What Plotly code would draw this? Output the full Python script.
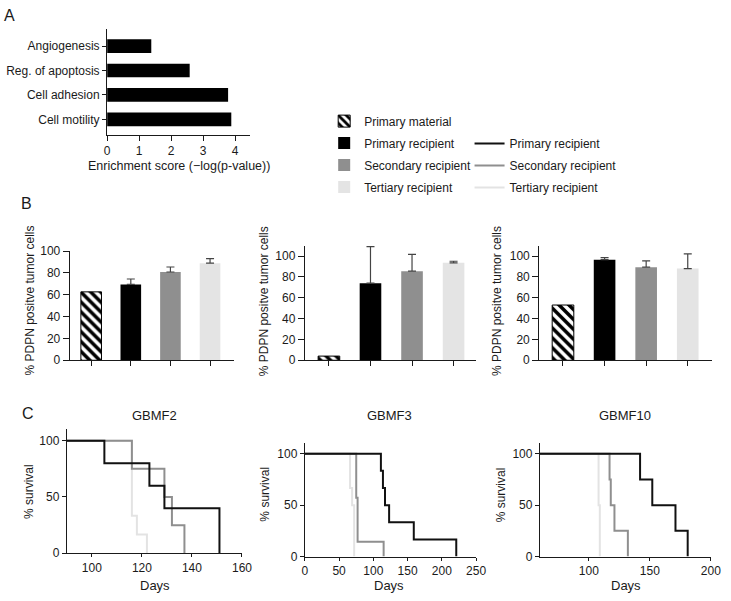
import plotly.graph_objects as go

W, H = 731, 601

# ---------------- data ----------------
# Panel A
go_terms = ["Angiogenesis", "Reg. of apoptosis", "Cell adhesion", "Cell motility"]
enrichment = [1.38, 2.58, 3.78, 3.88]

# Panel B
groups = ["Primary material", "Primary recipient", "Secondary recipient", "Tertiary recipient"]
pdpn_1 = [62.7, 69.5, 80.9, 89.0]
pdpn_1_err = [0, 5.0, 4.6, 4.1]
pdpn_2 = [4.0, 74.0, 85.5, 93.5]
pdpn_2_err = [0, 35.0, 16.0, 1.5]
pdpn_3 = [53.0, 96.5, 89.3, 88.0]
pdpn_3_err = [0, 2.0, 6.0, 14.0]

# Panel C (Kaplan-Meier steps)
recipients = ["Primary recipient", "Secondary recipient", "Tertiary recipient"]
gbmf2_days = [[0, 105, 123, 129, 151], [0, 116, 129, 132, 137], [0, 116, 118, 122]]
gbmf2_surv = [[100, 80, 60, 40, 0], [100, 75, 50, 25, 0], [100, 33.3, 16.7, 0]]
gbmf3_days = [[0, 111, 114, 117, 123, 159, 221], [0, 75, 77, 115], [0, 66, 69, 72]]
gbmf3_surv = [[100, 83.3, 66.7, 50, 33.3, 16.7, 0], [100, 57.1, 14.3, 0], [100, 66.7, 50, 0]]
gbmf10_days = [[0, 142, 152, 171, 181], [0, 117, 118, 121, 132], [0, 108, 109]]
gbmf10_surv = [[100, 75, 50, 25, 0], [100, 75, 50, 25, 0], [100, 50, 0]]

# ---------------- styling ----------------
FONT = "Liberation Sans, Arial, Helvetica, sans-serif"
INK = "#1a1a1a"
bar_colors = ["white", "#000000", "#8f8f8f", "#e4e4e4"]
line_colors = ["#111111", "#8f8f8f", "#e3e3e3"]


def px_x(p):
    return p / W


def px_y(p):
    return 1 - p / H


fig = go.Figure()

# Panel A bars
fig.add_trace(go.Bar(
    x=enrichment, y=go_terms, orientation="h", width=0.56,
    marker=dict(color="black", line=dict(width=0)),
    showlegend=False, xaxis="x", yaxis="y", hoverinfo="x+y"))

# Panel B bars
b_sets = [(pdpn_1, pdpn_1_err), (pdpn_2, pdpn_2_err), (pdpn_3, pdpn_3_err)]
for i, (vals, errs) in enumerate(b_sets):
    ax = i + 2
    for j, g in enumerate(groups):
        if j == 0:
            marker = dict(color="white",
                          pattern=dict(shape="\\", fgcolor="black", bgcolor="white",
                                       size=7, solidity=0.5, fillmode="replace"),
                          line=dict(color="black", width=1))
            err = dict(visible=False)
        else:
            marker = dict(color=bar_colors[j], line=dict(width=0))
            err = dict(type="data", symmetric=False, array=[errs[j]], arrayminus=[0],
                       color="#444444", thickness=1.2, width=4, visible=True)
        fig.add_trace(go.Bar(
            x=[g], y=[vals[j]], width=0.52, marker=marker, error_y=err,
            name=g, legendgroup="bar_" + g, showlegend=(i == 0), legend="legend",
            xaxis=f"x{ax}", yaxis=f"y{ax}"))

# Panel C lines
c_sets = [(gbmf2_days, gbmf2_surv), (gbmf3_days, gbmf3_surv), (gbmf10_days, gbmf10_surv)]
for i, (days, surv) in enumerate(c_sets):
    ax = i + 5
    for j, r in reversed(list(enumerate(recipients))):
        fig.add_trace(go.Scatter(
            x=days[j], y=surv[j], mode="lines",
            line=dict(shape="hv", color=line_colors[j], width=2),
            name=r, legendgroup="km_" + r, showlegend=(i == 0), legend="legend2",
            legendrank=j, xaxis=f"x{ax}", yaxis=f"y{ax}"))

axis_common = dict(showline=True, linecolor=INK, linewidth=1.2, ticks="outside",
                   ticklen=5, tickwidth=1.2, tickcolor=INK, showgrid=False,
                   zeroline=False, tickfont=dict(size=12, color=INK))

layout = dict(
    width=W, height=H, margin=dict(l=0, r=0, t=0, b=0),
    paper_bgcolor="white", plot_bgcolor="white",
    font=dict(family=FONT, size=12, color=INK),
    barmode="overlay", showlegend=True,
    legend=dict(x=px_x(327), y=px_y(102), xanchor="left", yanchor="top",
                tracegroupgap=3, bgcolor="rgba(0,0,0,0)", font=dict(size=12, color=INK),
                traceorder="grouped"),
    legend2=dict(x=px_x(475), y=px_y(125), xanchor="left", yanchor="top",
                 tracegroupgap=3, bgcolor="rgba(0,0,0,0)", font=dict(size=12, color=INK),
                 traceorder="grouped"),
)

# Panel A axes
layout["xaxis"] = dict(axis_common, domain=[px_x(106), px_x(251)], range=[0, 4.45],
                       dtick=1, tick0=0, anchor="y")
layout["yaxis"] = dict(axis_common, domain=[px_y(131), px_y(23)], range=[3.64, -0.68],
                       type="category", categoryorder="array", categoryarray=go_terms,
                       anchor="x", ticklen=4)

# Panel B axes
b_dom = [
    ([68, 235], [361.7, 250], [0, 100], [-0.54, 3.6]),
    ([307.3, 482], [361.7, 244.3], [0, 110], [-0.58, 3.55]),
    ([546, 721.7], [361.7, 244.3], [0, 110], [-0.57, 3.58]),
]
for i, (xd, yd, yr, xr) in enumerate(b_dom):
    ax = i + 2
    layout[f"xaxis{ax}"] = dict(axis_common, domain=[px_x(xd[0]), px_x(xd[1])], range=xr,
                                type="category", categoryorder="array", categoryarray=groups,
                                showticklabels=False, anchor=f"y{ax}")
    layout[f"yaxis{ax}"] = dict(axis_common, domain=[px_y(yd[0]), px_y(yd[1])], range=yr,
                                dtick=20, tick0=0, anchor=f"x{ax}", ticklen=6)

# Panel C axes
c_dom = [
    ([65, 243.3], [559.3, 432.5], [90, 160], 20),
    ([307.3, 481.7], [562.7, 446.8], [0, 250], 50),
    ([546.7, 720.7], [562.7, 446.8], [60, 200], 50),
]
for i, (xd, yd, xr, dt) in enumerate(c_dom):
    ax = i + 5
    layout[f"xaxis{ax}"] = dict(axis_common, domain=[px_x(xd[0]), px_x(xd[1])], range=xr,
                                dtick=dt, tick0=0, anchor=f"y{ax}", ticklen=3)
    layout[f"yaxis{ax}"] = dict(axis_common, domain=[px_y(yd[0]), px_y(yd[1])], range=[0, 110],
                                tickvals=[0, 50, 100], anchor=f"x{ax}", ticklen=4)

fig.update_layout(layout)


def note(text, x, y, size=12, angle=0, **kw):
    fig.add_annotation(text=text, x=px_x(x), y=px_y(y), xref="paper", yref="paper",
                       showarrow=False, textangle=angle, xanchor="center", yanchor="middle",
                       font=dict(size=size, color=INK, family=FONT), **kw)


# panel letters
note("A", 7, 9, size=16)
note("B", 24, 201, size=16)
note("C", 25, 416, size=16)

# axis titles
note("Enrichment score (\u2212log(p-value))", 179, 163, size=12.5)
for xc in [27, 266, 503]:
    note("% PDPN positve tumor cells", xc, 301, angle=-90)
for xc, yc in [(27, 496), (267, 499), (507, 499)]:
    note("% survival", xc, yc, angle=-90)
for xc in [155, 393, 634]:
    note("Days", xc, 592, size=13)
for t, xc in [("GBMF2", 154), ("GBMF3", 393), ("GBMF10", 633)]:
    note(t, xc, 418, size=13)

fig.write_html(
    "out.html",
    config={"displayModeBar": False},
    post_script="document.body.style.margin='0';document.documentElement.style.overflow='hidden';",
)
